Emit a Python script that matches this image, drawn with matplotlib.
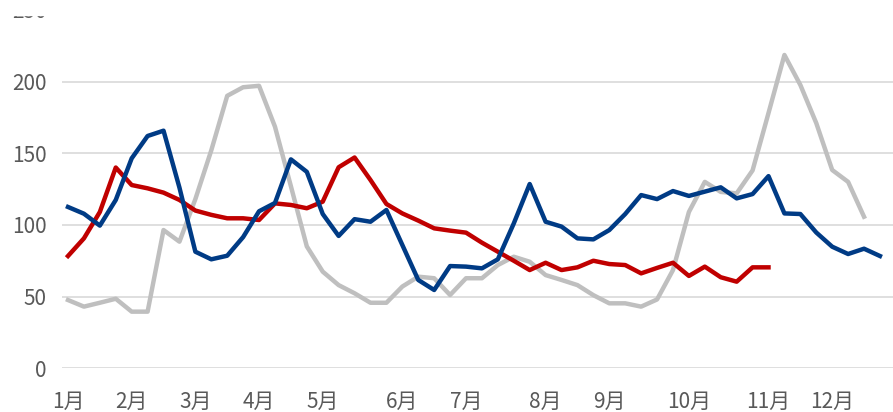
import numpy as np
import matplotlib
matplotlib.use("Agg")
import matplotlib.pyplot as plt
from matplotlib.patches import Rectangle

plt.rcParams['font.family'] = ['Noto Sans CJK SC', 'DejaVu Sans']

# weekly values, 52 weeks
weeks = np.arange(52)

blue_vals = [112.5, 107.8, 99.5, 117.4, 146.4, 162, 165.7, 126, 81.3, 76,
             78.5, 91.5, 109.5, 115.3, 145.7, 137, 107.6, 92.3, 104, 102.2,
             110.4, 86, 61.6, 54.6, 71.3, 70.9, 69.7, 76, 101, 128.5,
             102.2, 98.8, 90.6, 89.9, 96.4, 107.6, 120.8, 118, 123.6, 120.2,
             123.2, 126.2, 118.5, 121.5, 134, 108, 107.6, 94.7, 84.8, 79.7,
             83.4, 78.3]

red_vals = [78.3, 90.6, 109, 140, 127.8, 125.5, 122.5, 117.4, 110, 107,
            104.6, 104.6, 103.4, 115, 113.9, 111.6, 116.2, 140.2, 147, 131.3,
            114.6, 108, 103, 97.6, 96, 94.6, 87.6, 81.3, 75, 68.5,
            73.6, 68.5, 70.4, 75, 72.7, 72, 66.2, 70, 73.6, 64.4,
            70.9, 63.5, 60.4, 70.4, 70.4]

gray_vals = [47.6, 43, 45.7, 48.5, 39.5, 39.5, 96.4, 88.3, 118, 152,
             190, 196, 197, 168.5, 127, 85, 67.4, 58, 52.3, 45.7,
             45.7, 57, 63.9, 62.8, 51.1, 62.8, 62.8, 72, 77.8, 74.3,
             65, 61.6, 58, 51, 45.3, 45.3, 43, 48, 68.5, 109,
             130, 123, 122, 138, 178, 218.5, 197.6, 171, 138.3, 130,
             105.7]

month_weeks = [0, 4, 8, 12, 16, 21, 25, 30, 34, 39, 44, 48]
month_labels = ["1月", "2月", "3月", "4月", "5月", "6月",
                "7月", "8月", "9月", "10月", "11月", "12月"]
y_ticks = [0, 50, 100, 150, 200, 250]

fig = plt.figure(figsize=(8.93, 4.12), dpi=100)
ax = fig.add_axes([62 / 893, 0.1061, 1 - 62 / 893, 0.8701])

ax.plot(weeks[:len(gray_vals)], gray_vals, color="#BFBFBF", lw=3.2, zorder=2)
ax.plot(weeks[:len(red_vals)], red_vals, color="#C00000", lw=3.2, zorder=3)
ax.plot(weeks[:len(blue_vals)], blue_vals, color="#003B85", lw=3.2, zorder=4)

ax.set_xlim(-0.377, 51.82)
ax.set_ylim(0, 250)
ax.set_yticks(y_ticks)
ax.set_xticks(month_weeks)
ax.set_xticklabels(month_labels)

for v in y_ticks[:-1]:
    ax.axhline(v, color="#D9D9D9", lw=1.2, zorder=1)

for s in ax.spines.values():
    s.set_visible(False)
ax.tick_params(axis="y", length=0, pad=11, labelsize=15, labelcolor="#595959")
ax.tick_params(axis="x", length=0, pad=16, labelsize=15, labelcolor="#595959")

# top strip of the picture is blank (cuts the 250 label)
fig.patches.append(Rectangle((0, 1 - 15 / 412), 1, 15 / 412,
                             transform=fig.transFigure, color="white",
                             zorder=10))

fig.savefig("out.png", dpi=100)
